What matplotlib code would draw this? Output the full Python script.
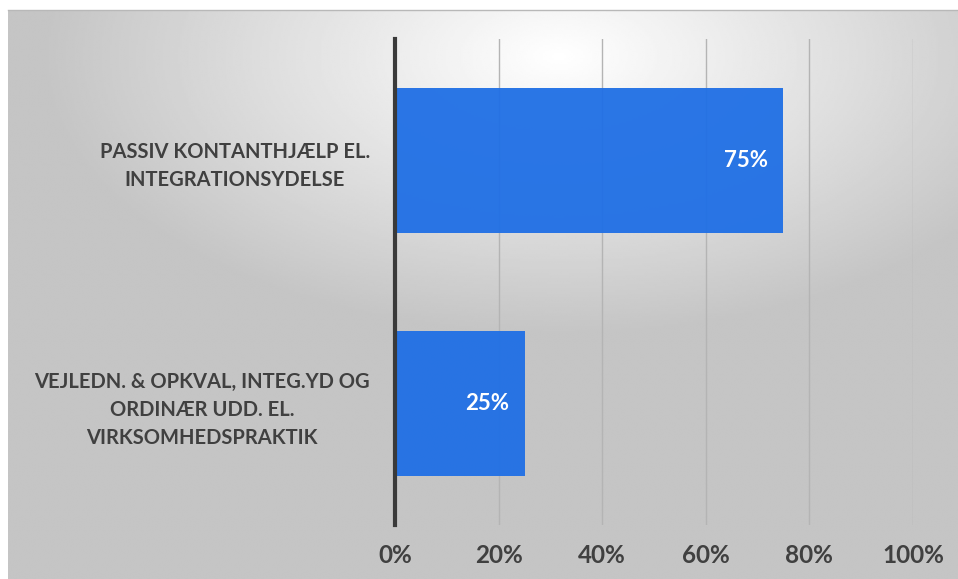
import numpy as np
import matplotlib.pyplot as plt

categories = [
    "PASSIV KONTANTHJÆLP EL.\nINTEGRATIONSYDELSE",
    "VEJLEDN. & OPKVAL, INTEG.YD OG\nORDINÆR UDD. EL.\nVIRKSOMHEDSPRAKTIK",
]
values = [0.75, 0.25]
value_labels = ["75%", "25%"]
x_ticks = [0, 0.2, 0.4, 0.6, 0.8, 1.0]
x_tick_labels = ["0%", "20%", "40%", "60%", "80%", "100%"]

TEXT = "#404040"
BAR = "#1F6FE5"

plt.rcParams["font.family"] = ["Lato", "DejaVu Sans"]
plt.rcParams["font.weight"] = "bold"

fig = plt.figure(figsize=(9.58, 5.79), dpi=100)

# radial grey gradient background
bg = fig.add_axes([8 / 958, 0, 950 / 958, 569 / 579], zorder=0)
yy, xx = np.mgrid[0:1:300j, 0:1:500j]
d = np.sqrt(((xx - 0.58) / 1.0) ** 2 + ((yy - 0.08) / 0.9) ** 2)
shade = np.clip(1.0 - 0.42 * d, 0.77, 1.0)
bg.imshow(shade, cmap="gray", vmin=0, vmax=1, aspect="auto",
          extent=[0, 1, 0, 1], origin="upper", interpolation="bilinear")
bg.set_xlim(0, 1)
bg.set_ylim(0, 1)
bg.set_xticks([])
bg.set_yticks([])
for side in ["left", "right", "bottom"]:
    bg.spines[side].set_visible(False)
bg.spines["top"].set_color("#b8b8b8")
bg.spines["top"].set_linewidth(1.0)

ax = fig.add_axes([395 / 958, 54 / 579, 518 / 958, 486 / 579], zorder=1)
ax.patch.set_alpha(0)

y = np.arange(len(categories))
bars = ax.barh(y, values, height=0.6, color=BAR, alpha=0.95, zorder=2)
ax.set_ylim(1.5, -0.5)
ax.set_xlim(0, 1.0)

for bar, lab in zip(bars, value_labels):
    ax.text(bar.get_width() - 0.03, bar.get_y() + bar.get_height() / 2, lab,
            ha="right", va="center", color="white", fontsize=16,
            fontweight="bold", zorder=3)

ax.set_xticks(x_ticks)
ax.set_xticklabels(x_tick_labels, fontsize=17.5, color=TEXT, fontweight="bold")
ax.set_yticks(y)
ax.set_yticklabels(categories, fontsize=14.5, color=TEXT, fontweight="bold",
                   multialignment="center", linespacing=1.5)
ax.tick_params(axis="both", length=0)
ax.tick_params(axis="x", pad=14)
ax.tick_params(axis="y", pad=18)

ax.grid(axis="x", color="#b4b4b4", linewidth=1.0, linestyle="-", zorder=1)
ax.set_axisbelow(True)
for side in ["top", "right", "bottom"]:
    ax.spines[side].set_visible(False)
ax.spines["left"].set_color("#3a3a3a")
ax.spines["left"].set_linewidth(3)
ax.spines["left"].set_zorder(4)

fig.savefig("out.png", dpi=100, facecolor="white")
